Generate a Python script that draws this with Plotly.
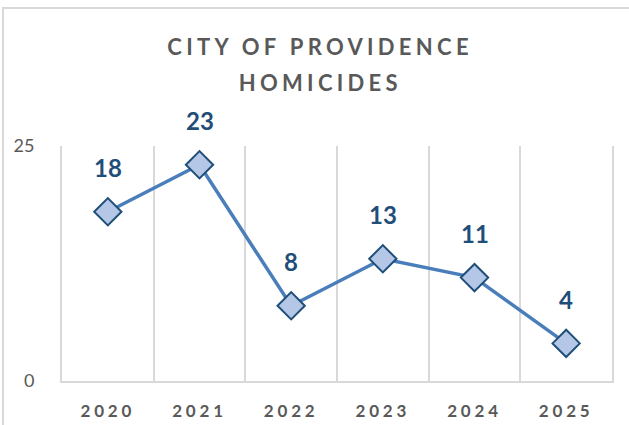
import plotly.graph_objects as go

years = ["2020", "2021", "2022", "2023", "2024", "2025"]
homicides = [18, 23, 8, 13, 11, 4]
title_lines = ["CITY OF PROVIDENCE", "HOMICIDES"]
y_ticks = [0, 25]

GRAY = "#595959"
NAVY = "#1F4E79"
GRID = "#D9D9D9"

fig = go.Figure()
fig.add_trace(go.Scatter(
    x=years, y=homicides, mode="lines+markers",
    line=dict(color="#4A7EBB", width=3.5),
    marker=dict(symbol="diamond", size=21, color="#B4C7E7",
                line=dict(color=NAVY, width=2)),
    hoverinfo="skip", showlegend=False, cliponaxis=False,
))

annotations = []
for i, t in enumerate(title_lines):
    annotations.append(dict(
        text=t, xref="paper", yref="paper", x=(320 - 62) / 550,
        y=[(381 - 46) / 235, (381 - 83) / 235][i],
        xanchor="center", yanchor="middle", showarrow=False,
        font=dict(family="Lato", size=22, color=GRAY, weight="bold"),
    ))
for i, v in enumerate(homicides):
    annotations.append(dict(
        text=str(v), x=i, y=v, yshift=44, showarrow=False,
        xanchor="center", yanchor="middle",
        font=dict(family="Lato", size=24, color=NAVY, weight="bold"),
    ))

fig.update_layout(
    width=629, height=425,
    margin=dict(l=62, r=17, t=146, b=44),
    paper_bgcolor="white", plot_bgcolor="white",
    annotations=annotations,
    shapes=[dict(type="rect", xref="paper", yref="paper",
                 x0=(3 - 62) / 550, x1=1.2, y0=-0.3, y1=(381 - 8) / 235,
                 line=dict(color=GRID, width=2), layer="below")],
    xaxis=dict(
        type="category", range=[-0.5, 5.5], tickson="boundaries",
        showgrid=True, gridcolor=GRID, gridwidth=2,
        showline=True, linecolor=GRID, linewidth=2,
        ticks="", ticklabelstandoff=14, automargin=False,
        tickfont=dict(family="Lato", size=17, color=GRAY, weight="bold"),
        fixedrange=True,
    ),
    yaxis=dict(
        range=[0, 25], tickvals=y_ticks, showgrid=False, zeroline=False,
        showline=True, mirror=True, linecolor=GRID, linewidth=2,
        ticks="", ticklabelstandoff=22, automargin=False,
        tickfont=dict(family="Lato", size=18, color=GRAY),
        fixedrange=True,
    ),
)

post = """
document.body.style.margin = '0';
document.body.style.padding = '0';
var gd = document.getElementById('{plot_id}');
function ls(){
  var anns = gd.querySelectorAll('.annotation');
  for (var i=0;i<2 && i<anns.length;i++){
    var t = anns[i].querySelector('text');
    if (t) t.style.letterSpacing='4.3px';
  }
  gd.querySelectorAll('.xtick text').forEach(function(t){t.style.letterSpacing='3.8px';});
}
ls();
gd.on('plotly_afterplot', ls);
"""
fig.write_html("out.html", post_script=post, config={"displayModeBar": False})
